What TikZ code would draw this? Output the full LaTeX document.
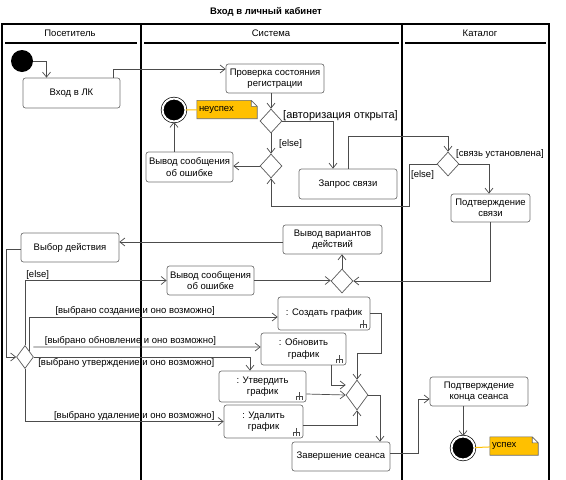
\documentclass[tikz,border=0pt]{standalone}
\usepackage{fontspec}
\setmainfont{Liberation Sans}
\usetikzlibrary{arrows.meta,shapes.geometric}
\pgfdeclarelayer{background}
\pgfsetlayers{background,main}
\definecolor{notefill}{RGB}{255,192,0}
\tikzstyle{lane}=[draw,line width=1.5pt]
\tikzstyle{activity}=[draw=black!55,line width=0.7pt,rounded corners=2.5pt,fill=white,align=center,inner sep=1pt,font=\fontsize{9.5}{11.5}\selectfont]
\tikzstyle{decision}=[diamond,draw=black!65,line width=0.7pt,fill=white,minimum width=22pt,minimum height=24pt,inner sep=0pt]
\tikzstyle{initial}=[circle,fill=black,minimum size=22pt,inner sep=0pt]
\tikzstyle{final}=[circle,draw=black,fill=black,double=white,double distance=2pt,line width=0.7pt,minimum size=23pt,inner sep=0pt]
\tikzstyle{notebox}=[inner sep=2pt,minimum height=18pt,align=left,font=\fontsize{9.5}{11}\selectfont]
\tikzstyle{notelink}=[draw=notefill,line width=1pt]
\tikzstyle{flow}=[draw=black!70,line width=0.7pt,-{Straight Barb[length=5pt,width=8pt]}]
\tikzstyle{guard}=[inner sep=1pt,font=\fontsize{9.5}{11}\selectfont]
\tikzset{rake/.pic={\draw[black!70,line width=0.6pt] (0,-4)--(0,4) (-3,0)--(3,0) (-3,0)--(-3,4) (3,0)--(3,4);}}

\begin{document}
\begin{tikzpicture}[x=1pt,y=-1pt]
    \useasboundingbox (0,0) rectangle (566,480);
    % Title and swimlanes
    \node[font=\bfseries\fontsize{9.5}{11}\selectfont] (title) at (266,12) {Вход в личный кабинет};
    \draw[lane] (2,480) -- (2,24) -- (549,24) -- (549,480);
    \draw[lane] (141,24) -- (141,480);
    \draw[lane] (402,24) -- (402,480);
    \foreach \x/\name/\txt in {70/hvisitor/Посетитель, 271/hsystem/Система, 480/hcatalog/Каталог}
        \node[font=\fontsize{9.5}{11}\selectfont] (\name) at (\x,33) {\txt};
    \foreach \a/\b in {5/137, 144/399, 405/546}
        \draw[lane] (\a,43) -- (\b,43);

    % Activities
    \foreach \pos/\name/\w/\h/\txt in {{(71.5,93)/login/97/30/{Вход в ЛК}},
            {(275,78.5)/check/98/29/{Проверка состояния\\регистрации}},
            {(189.5,167)/err1/87/30/{Вывод сообщения\\об ошибке}},
            {(348,184)/req/98/30/{Запрос связи}},
            {(490.5,208)/conf/79/28/{Подтверждение\\связи}},
            {(332.5,239.5)/opts/99/29/{Вывод вариантов\\действий}},
            {(70,247.5)/choice/98/29/{Выбор действия}},
            {(210.5,280.5)/err2/87/29/{Вывод сообщения\\об ошибке}},
            {(324,313.5)/create/92/33/{: Создать график}},
            {(303.5,349)/update/85/32/{: Обновить\\график}},
            {(262.5,386.5)/approve/87/31/{: Утвердить\\график}},
            {(263.5,421.5)/delete/79/33/{: Удалить\\график}},
            {(341,456.5)/finish/98/29/{Завершение сеанса}},
            {(479,391.5)/confend/98/29/{Подтверждение\\конца сеанса}}}
        \node[activity,minimum width=\w pt,minimum height=\h pt] (\name) at \pos {\txt};

    \foreach \name in {create,update,approve,delete}
        \pic at ([xshift=-7pt,yshift=6pt]\name.south east) {rake};

    % Decisions, start and ends
    \foreach \pos/\name in {{(271,121)/d1}, {(271,166)/d2}, {(448,164)/d3}, {(342,281)/d4}}
        \node[decision] (\name) at \pos {};
    \node[decision,minimum width=17pt,minimum height=23pt] (d5) at (25,357) {};
    \node[decision,minimum width=22pt,minimum height=30pt] (d6) at (357,395) {};

    \node[initial] (start) at (22,61) {};
    \node[final] (fail) at (174,110) {};
    \node[final] (done) at (463,448) {};
    \node[notebox,text width=56pt] (nfail) at (227,109.5) {неуспех};
    \node[notebox,text width=44pt] (nok) at (514,446) {успех};
    \begin{pgfonlayer}{background}
        \foreach \n in {nfail,nok}
            \draw[draw=black!60,fill=notefill,line width=0.6pt] (\n.south west) -- (\n.north west) -- ([xshift=-6pt]\n.north east)
                -- ([yshift=-6pt]\n.north east) -- (\n.south east) -- cycle
                ([xshift=-6pt]\n.north east) -- ([xshift=-6pt,yshift=-6pt]\n.north east) -- ([yshift=-6pt]\n.north east);
    \end{pgfonlayer}
    \draw[notelink] (fail) -- (nfail);
    \draw[notelink] (done) -- (nok);

    % Connect with control flows
    \draw[flow] (start) -| ([xshift=-25pt]login.north);
    \draw[flow] ([xshift=-7pt]login.north east) |- ([yshift=9.5pt]check.west);
    \draw[flow] (check.south -| d1) -- (d1);
    \draw[flow] (d1) -| ([xshift=-15pt]req.north);
    \node[guard,anchor=west,font=\fontsize{11}{12}\selectfont] (gopen) at ([xshift=11pt,yshift=5pt]d1.center) {[авторизация открыта]};
    \draw[flow] (d1) -- (d2);
    \node[guard,anchor=west] (gelse1) at ([xshift=7pt,yshift=-23pt]d1.center) {[else]};
    \draw[flow] (d2) -- (d2 -| err1.east);
    \draw[flow] (err1.north -| fail) -- (fail);
    \draw[flow] (req.north) -- ++(0,-32) -| (d3);
    \draw[flow] (d3) -| ([xshift=-1.5pt]conf.north);
    \node[guard,anchor=west] (glink) at ([xshift=7pt,yshift=10pt]d3.center) {[связь установлена]};
    \draw[flow] (d3) -- ++(-39,0) -- ++(0,42) -| (d2);
    \node[guard,anchor=west] (gelse2) at ([xshift=-38pt,yshift=-11pt]d3.center) {[else]};
    \draw[flow] (conf) |- (d4);
    \draw[flow] (d4) -- (d4 |- opts.south);
    \draw[flow] ([yshift=-2.5pt]opts.west) -- ([yshift=-2.5pt]opts.west -| choice.east);
    \draw[flow] ([yshift=-1.5pt]choice.west) -- ++(-14,0) |- (d5);
    \draw[flow] (d5) |- (err2) node[guard,pos=0.5,above right] {[else]};
    \draw[flow] (err2) -- (err2 -| d4.west);
    \draw[flow] (d5.north east) |- ([yshift=-3.5pt]create.west)
        node[guard,pos=0.713,above] {[выбрано создание и оно возможно]};
    \draw[flow] ([xshift=4pt,yshift=4pt]d5.north east) -- ([yshift=2pt]update.west)
        node[guard,pos=0.427,above] {[выбрано обновление и оно возможно]};
    \draw[flow] (d5) -| ([xshift=-12.5pt]approve.north)
        node[guard,pos=0.214,below] {[выбрано утверждение и оно возможно]};
    \draw[flow] (d5) |- (delete)
        node[guard,pos=0.775,above] {[выбрано удаление и оно возможно]};
    % Merge into the end of session
    \draw[flow] (create) -- ++(57,0) -- ++(0,39.5) -| (d6);
    \draw[flow] ([xshift=27.5pt]update.south) |- ([yshift=10pt]d6.west);
    \draw[flow] ([yshift=-7.5pt]approve.east) -- (d6.west);
    \draw[flow] ([yshift=-3.5pt]delete.east) -| (d6);
    \draw[flow] (d6) -| ([xshift=39pt]finish.north);
    \draw[flow] ([yshift=3.5pt]finish.east) -- ++(28,0) |- ([yshift=-7.5pt]confend.west);
    \draw[flow] (confend.south -| done) -- (done);
\end{tikzpicture}
\end{document}
